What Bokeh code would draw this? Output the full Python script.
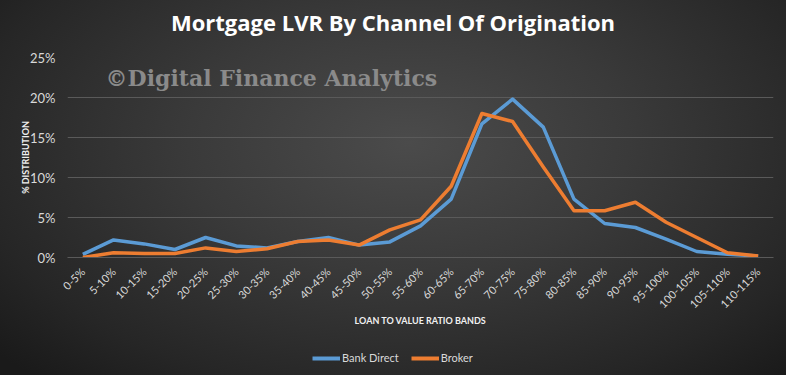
from bokeh.plotting import figure
from bokeh.layouts import column
from bokeh.models import FixedTicker, PrintfTickFormatter, Legend, LegendItem, Label, Div
from bokeh.embed import file_html
from bokeh.resources import INLINE
from math import pi

bands = ["0-5%", "5-10%", "10-15%", "15-20%", "20-25%", "25-30%", "30-35%", "35-40%",
         "40-45%", "45-50%", "50-55%", "55-60%", "60-65%", "65-70%", "70-75%", "75-80%",
         "80-85%", "85-90%", "90-95%", "95-100%", "100-105%", "105-110%", "110-115%"]
bank_direct = [0.4, 2.2, 1.7, 1.0, 2.5, 1.45, 1.2, 2.0, 2.5, 1.55, 1.95, 3.95, 7.3, 16.7,
               19.8, 16.3, 7.3, 4.25, 3.75, 2.3, 0.75, 0.4, 0.2]
broker = [0.0, 0.6, 0.5, 0.5, 1.2, 0.75, 1.1, 2.0, 2.2, 1.55, 3.45, 4.7, 8.9, 18.0,
          17.0, 11.3, 5.85, 5.85, 6.9, 4.4, 2.5, 0.6, 0.2]
y_ticks = [0, 5, 10, 15, 20, 25]
series_names = ["Bank Direct", "Broker"]
series_values = [bank_direct, broker]
series_colors = ["#5B9BD5", "#ED7D31"]
title_text = "Mortgage LVR By Channel Of Origination"

title_div = Div(text=title_text, width=786, height=40, margin=0,
                styles={"font-family": "'Open Sans'", "font-weight": "bold", "font-size": "22px",
                        "color": "#ffffff", "text-align": "center", "line-height": "44px"})

p = figure(x_range=bands, y_range=(0, 25), width=786, height=295,
           output_backend="svg", toolbar_location=None,
           min_border_left=67, min_border_right=13, min_border_top=17, min_border_bottom=78)
p.background_fill_alpha = 0
p.border_fill_alpha = 0
p.outline_line_color = None

for vals, color in zip(series_values, series_colors):
    p.line(bands, vals, line_color=color, line_width=3.5, line_join="round")

p.add_layout(Label(x=1.24, y=22.45, text="\u00a9Digital Finance Analytics",
                   text_font="DejaVu Serif", text_font_style="bold", text_font_size="22px",
                   text_color="#8a8a8a", text_baseline="alphabetic"))

p.xgrid.grid_line_color = None
p.ygrid.grid_line_color = "#5a5a5a"
p.ygrid.grid_line_width = 1
p.ygrid.ticker = FixedTicker(ticks=y_ticks)

p.yaxis.ticker = FixedTicker(ticks=y_ticks)
p.yaxis.formatter = PrintfTickFormatter(format="%d%%")
p.yaxis.axis_line_color = None
p.yaxis.major_tick_line_color = None
p.yaxis.minor_tick_line_color = None
p.yaxis.major_label_standoff = 6
p.yaxis.major_label_text_color = "#d9d9d9"
p.yaxis.major_label_text_font = "Lato"
p.yaxis.major_label_text_font_size = "13px"
p.yaxis.axis_label = "% DISTRIBUTION"
p.yaxis.axis_label_text_font = "Lato"
p.yaxis.axis_label_text_font_style = "bold"
p.yaxis.axis_label_text_font_size = "9px"
p.yaxis.axis_label_text_color = "#f0f0f0"
p.yaxis.axis_label_standoff = -4

p.xaxis.axis_line_color = "#5a5a5a"
p.xaxis.major_tick_line_color = None
p.xaxis.minor_tick_line_color = None
p.xaxis.major_label_orientation = pi / 4
p.xaxis.major_label_standoff = 6
p.xaxis.major_label_text_color = "#d9d9d9"
p.xaxis.major_label_text_font = "Lato"
p.xaxis.major_label_text_font_size = "11px"
p.xaxis.axis_label = "LOAN TO VALUE RATIO BANDS"
p.xaxis.axis_label_text_font = "Lato"
p.xaxis.axis_label_text_font_style = "bold"
p.xaxis.axis_label_text_font_size = "9px"
p.xaxis.axis_label_text_color = "#f0f0f0"
p.xaxis.axis_label_standoff = -3

# legend strip below the chart (series drawn off-view, only the legend shows)
p2 = figure(width=786, height=40, output_backend="svg", toolbar_location=None,
            min_border=0, x_range=bands, y_range=(100, 101))
p2.background_fill_alpha = 0
p2.border_fill_alpha = 0
p2.outline_line_color = None
p2.axis.visible = False
p2.grid.visible = False
items = []
for name, vals, color in zip(series_names, series_values, series_colors):
    r = p2.line(bands, vals, line_color=color, line_width=4)
    items.append(LegendItem(label=name, renderers=[r]))
legend = Legend(items=items, orientation="horizontal", location=(245, 11),
                background_fill_alpha=0, border_line_color=None,
                label_text_color="#d9d9d9", label_text_font="Lato", label_text_font_size="11px",
                glyph_width=28, glyph_height=12, label_standoff=2, spacing=12, margin=0, padding=2)
p2.add_layout(legend)

layout = column(title_div, p, p2, spacing=0)
layout.styles = {"background": "radial-gradient(ellipse 70% 85% at 52% 38%, #4b4b4b 0%, #3a3a3a 40%, #262626 80%, #1a1a1a 100%)"}

open("out.html", "w").write(file_html(layout, INLINE))
